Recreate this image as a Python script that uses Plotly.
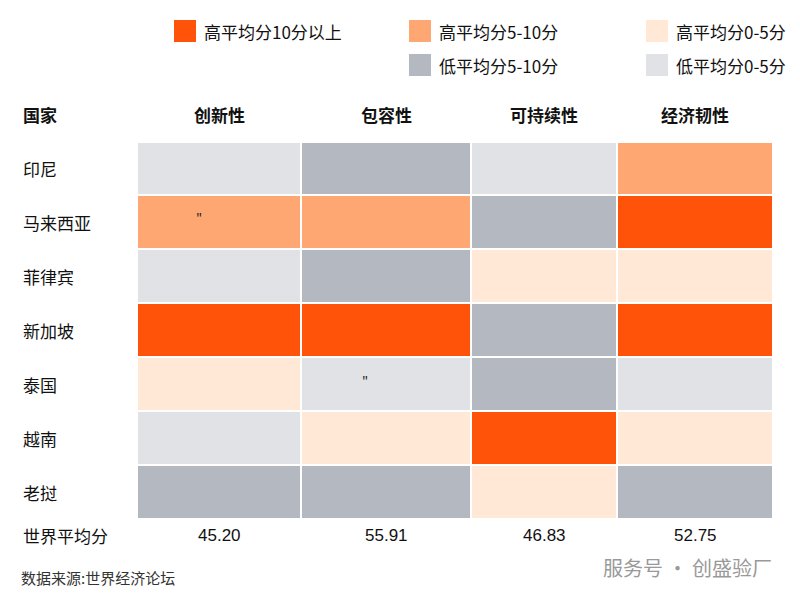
import plotly.graph_objects as go

countries = ['印尼', '马来西亚', '菲律宾', '新加坡', '泰国', '越南', '老挝']
pillars = ['创新性', '包容性', '可持续性', '经济韧性']
world_avg = ['45.20', '55.91', '46.83', '52.75']
# 0 低平均分0-5分, 1 低平均分5-10分, 2 高平均分0-5分, 3 高平均分5-10分, 4 高平均分10分以上
levels = [
    [0, 1, 0, 3],
    [3, 3, 1, 4],
    [0, 1, 2, 2],
    [4, 4, 1, 4],
    [2, 0, 1, 0],
    [0, 2, 4, 2],
    [1, 1, 2, 1],
]
legend_labels = ['低平均分0-5分', '低平均分5-10分', '高平均分0-5分', '高平均分5-10分', '高平均分10分以上']
colors = ['#E0E2E5', '#B4B8C0', '#FFE8D6', '#FFA772', '#FF5309']

# layout in pixel-like coordinates
col_edges = [138, 302, 472, 618, 774]
row_edges = [143, 196, 250, 304, 358, 412, 466, 520]

scale = []
for i, c in enumerate(colors):
    scale += [[i / 5, c], [(i + 1) / 5, c]]

fig = go.Figure(go.Heatmap(
    z=levels, x=col_edges, y=row_edges, zmin=0, zmax=5,
    colorscale=scale, showscale=False, xgap=2, ygap=2, hoverinfo='skip'))

font = 'Noto Sans CJK SC'
ann = []
for i, p in enumerate(pillars):
    ann.append(dict(x=(col_edges[i] + col_edges[i + 1]) / 2, y=115, text='<b>%s</b>' % p,
                    font=dict(size=17, color='#111')))
    ann.append(dict(x=(col_edges[i] + col_edges[i + 1]) / 2, y=536, text=world_avg[i],
                    font=dict(size=17, color='#111', family='Liberation Sans')))
ann.append(dict(x=22, y=115, text='<b>国家</b>', xanchor='left', font=dict(size=17, color='#111')))
for j, c in enumerate(countries):
    ann.append(dict(x=22, y=(row_edges[j] + row_edges[j + 1]) / 2, text=c, xanchor='left',
                    font=dict(size=17, color='#111')))
ann.append(dict(x=22, y=536, text='世界平均分', xanchor='left', font=dict(size=17, color='#111')))
ann.append(dict(x=20, y=578, text='数据来源:世界经济论坛', xanchor='left', font=dict(size=15, color='#333')))
ann.append(dict(x=775, y=568, text='服务号 · 创盛验厂', xanchor='right', font=dict(size=20, color='#999')))
ann.append(dict(x=200, y=218, text='"', font=dict(size=13, color='#222')))
ann.append(dict(x=366, y=381, text='"', font=dict(size=13, color='#222')))

shapes = []
leg_pos = [(647, 66), (410, 66), (647, 32), (410, 32), (175, 32)]
for k, (lx, ly) in enumerate(leg_pos):
    shapes.append(dict(type='rect', x0=lx, x1=lx + 22, y0=ly - 11, y1=ly + 11, xref='x', yref='y',
                       fillcolor=colors[k], line=dict(width=0)))
    ann.append(dict(x=lx + 28, y=ly, text=legend_labels[k], xanchor='left', font=dict(size=17, color='#111')))

for a in ann:
    a.update(xref='x', yref='y', showarrow=False)
    a['font'].setdefault('family', font)

fig.update_layout(
    width=800, height=599, margin=dict(l=0, r=0, t=0, b=0),
    paper_bgcolor='white', plot_bgcolor='white',
    xaxis=dict(range=[9, 809], visible=False, fixedrange=True),
    yaxis=dict(range=[608, 9], visible=False, fixedrange=True),
    annotations=ann, shapes=shapes, font=dict(family=font))

fig.write_html('out.html')
